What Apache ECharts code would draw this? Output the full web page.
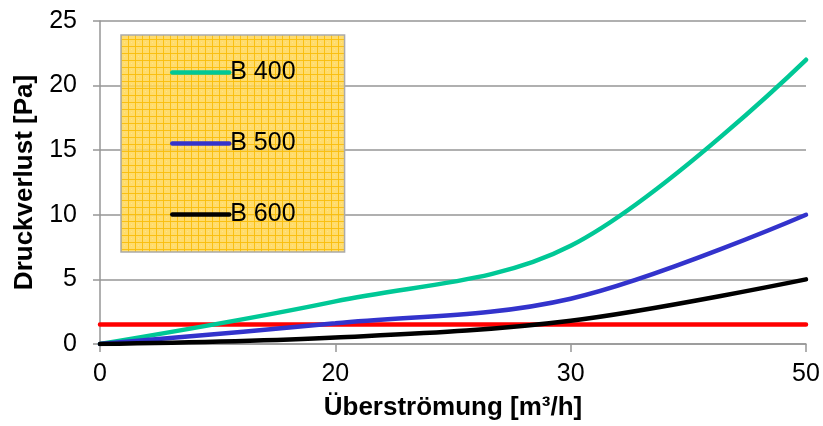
<!DOCTYPE html>
<html><head><meta charset="utf-8">
<script src="https://cdn.jsdelivr.net/npm/echarts@6/dist/echarts.min.js"></script>
<style>html,body{margin:0;padding:0;background:#fff}#c{width:823px;height:426px}</style>
</head><body><div id="c"></div>
<script>
const categories = ['0', '20', '30', '50'];
const b400 = [0, 3.3, 7.6, 22];
const b500 = [0, 1.6, 3.5, 10];
const b600 = [0, 0.5, 1.8, 5];
const limit = [1.5, 1.5, 1.5, 1.5];
const yTicks = {min: 0, max: 25, interval: 5};

// legend background pattern (yellow grid texture)
const pc = document.createElement('canvas');
pc.width = 7; pc.height = 7;
const g = pc.getContext('2d');
g.fillStyle = 'rgba(255,214,85,0.86)';
g.fillRect(0, 0, 7, 7);
g.fillStyle = 'rgba(250,190,10,0.9)';
g.fillRect(0, 0, 7, 1);
g.fillRect(0, 0, 1, 7);
g.fillStyle = 'rgba(255,235,150,0.6)';
g.fillRect(3, 3, 1, 1);

const chart = echarts.init(document.getElementById('c'), null, {renderer: 'canvas'});
const font = 'Liberation Sans, Arial, sans-serif';
chart.setOption({
  animation: false,
  grid: {left: 100, right: 17, top: 21, bottom: 80},
  legend: {
    data: ['B 400', 'B 500', 'B 600'],
    orient: 'vertical',
    left: 121, top: 35,
    padding: [25, 49, 25, 49],
    itemWidth: 57, itemHeight: 25, itemGap: 46,
    backgroundColor: {image: pc, repeat: 'repeat'},
    borderColor: '#aaaaaa', borderWidth: 1.5,
    textStyle: {fontFamily: font, fontSize: 25, lineHeight: 25, color: '#000', padding: [0, 0, 0, -4]},
    lineStyle: {width: 4.5},
    itemStyle: {opacity: 0}
  },
  xAxis: {
    type: 'category', data: categories, boundaryGap: false,
    name: 'Überströmung [m³/h]', nameLocation: 'middle', nameGap: 51,
    nameTextStyle: {fontFamily: font, fontSize: 26, fontWeight: 'bold', color: '#000'},
    axisLine: {lineStyle: {color: '#969696', width: 1.5}},
    axisTick: {alignWithLabel: true, length: 8, lineStyle: {color: '#969696', width: 1.5}},
    axisLabel: {fontFamily: font, fontSize: 25, color: '#000', margin: 18},
    splitLine: {show: false}
  },
  yAxis: {
    type: 'value', min: yTicks.min, max: yTicks.max, interval: yTicks.interval,
    name: 'Druckverlust [Pa]', nameLocation: 'middle', nameGap: 62,
    nameTextStyle: {fontFamily: font, fontSize: 26, fontWeight: 'bold', color: '#000'},
    axisLine: {show: true, lineStyle: {color: '#969696', width: 1.5}},
    axisTick: {show: true, length: 7, lineStyle: {color: '#969696', width: 1.5}},
    axisLabel: {fontFamily: font, fontSize: 25, color: '#000', margin: 23},
    splitLine: {lineStyle: {color: '#969696', width: 1.5}}
  },
  series: [
    {name: 'Grenze', type: 'line', data: limit, symbol: 'none', lineStyle: {color: '#ff0000', width: 4.5, cap: 'round'}, itemStyle: {color: '#ff0000'}, z: 2},
    {name: 'B 400', type: 'line', data: b400, smooth: 0.35, symbol: 'none', lineStyle: {color: '#00c896', width: 4.5, cap: 'round'}, itemStyle: {color: '#00c896'}, z: 3},
    {name: 'B 500', type: 'line', data: b500, smooth: 0.35, symbol: 'none', lineStyle: {color: '#3333cc', width: 4.5, cap: 'round'}, itemStyle: {color: '#3333cc'}, z: 3},
    {name: 'B 600', type: 'line', data: b600, smooth: 0.35, symbol: 'none', lineStyle: {color: '#000000', width: 4.5, cap: 'round'}, itemStyle: {color: '#000000'}, z: 3}
  ]
});
</script></body></html>
